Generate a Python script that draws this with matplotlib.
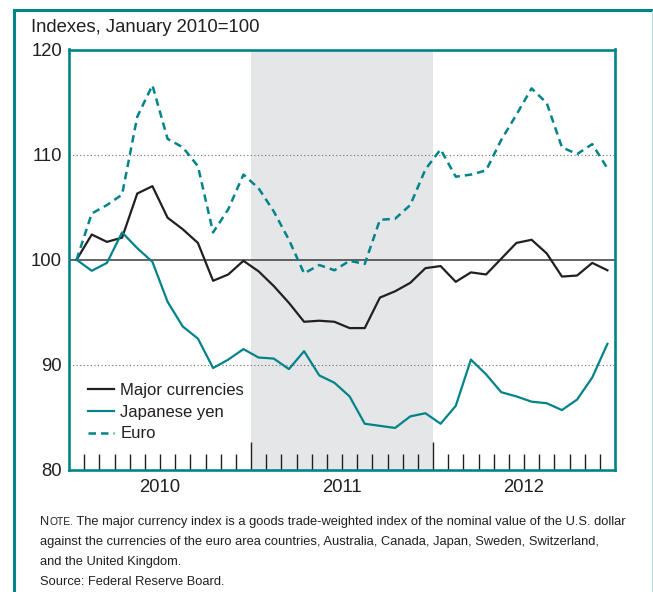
import matplotlib
matplotlib.use('Agg')
import matplotlib.pyplot as plt
import numpy as np
from matplotlib.lines import Line2D
from matplotlib.transforms import blended_transform_factory

plt.rcParams['font.family'] = ['Liberation Sans', 'DejaVu Sans']

# ---- data (monthly, Jan 2010 .. Dec 2012) ----
years = ['2010', '2011', '2012']
major = [100.0, 102.4, 101.7, 102.1, 106.3, 107.0, 104.0, 102.9, 101.6, 98.0, 98.6, 99.9,
         98.9, 97.5, 95.9, 94.1, 94.2, 94.1, 93.5, 93.5, 96.4, 97.0, 97.8, 99.2,
         99.4, 97.9, 98.8, 98.6, 100.1, 101.6, 101.9, 100.6, 98.4, 98.5, 99.7, 99.0]
yen = [100.0, 98.95, 99.7, 102.6, 101.1, 99.8, 96.0, 93.65, 92.5, 89.7, 90.5, 91.5,
       90.7, 90.6, 89.6, 91.3, 89.0, 88.3, 87.0, 84.4, 84.2, 84.0, 85.1, 85.4,
       84.4, 86.1, 90.5, 89.1, 87.4, 87.0, 86.5, 86.35, 85.7, 86.7, 88.8, 92.0]
euro = [100.0, 104.4, 105.2, 106.2, 113.6, 116.6, 111.5, 110.7, 108.9, 102.6, 104.8, 108.1,
        106.8, 104.6, 101.9, 98.7, 99.5, 99.0, 99.9, 99.6, 103.8, 103.9, 105.2, 108.6,
        110.5, 107.9, 108.1, 108.5, 111.4, 113.8, 116.3, 114.9, 110.7, 110.05, 111.0, 108.7]
y_ticks = [80, 90, 100, 110, 120]
labels = ['Major currencies', 'Japanese yen', 'Euro']
shade_years = ('2011',)

TEAL = '#00848a'
DARK = '#231f20'
W, H = 653, 592

fig = plt.figure(figsize=(W / 100, H / 100), dpi=100)
ax = fig.add_axes([69 / W, 1 - 470 / H, (615 - 69) / W, (470 - 49.5) / H])

n = len(major)
x = np.arange(n) + 0.5

# shading for 2011
for yr in shade_years:
    i = years.index(yr)
    ax.axvspan(12 * i, 12 * (i + 1), color='#e5e6e8', lw=0, zorder=0)

# reference lines
for v in (90, 110):
    ax.axhline(v, color='#6d6e71', lw=0.8, ls=(0, (1, 2.2)), zorder=1)
ax.axhline(100, color='#3a3a3a', lw=1.1, zorder=1)

ax.plot(x, major, color=DARK, lw=1.6, zorder=3, label=labels[0])
ax.plot(x, yen, color=TEAL, lw=1.6, zorder=3, label=labels[1])
ax.plot(x, euro, color=TEAL, lw=1.8, ls=(0, (3.0, 2.0)), zorder=3, label=labels[2])

ax.set_xlim(0, n)
ax.set_ylim(80, 120)

# ticks
ax.set_xticks([12, 24])
ax.set_xticks([m for m in range(1, n) if m % 12 != 0], minor=True)
ax.tick_params(axis='x', which='major', direction='in', length=20, width=1.0,
               color=DARK, labelbottom=False)
ax.tick_params(axis='x', which='minor', direction='in', length=11.5, width=1.0,
               color=DARK, labelbottom=False)
ax.set_yticks(y_ticks)
ax.tick_params(axis='y', length=0, pad=5, labelsize=13.3, labelcolor=DARK)

for s in ax.spines.values():
    s.set_color(TEAL)
    s.set_linewidth(1.9)
    s.set_zorder(5)

trans = blended_transform_factory(ax.transData, fig.transFigure)
for i, yr in enumerate(years):
    ax.text(12 * i + 6, 1 - 488 / H, yr, transform=trans, ha='center', va='center',
            fontsize=13.3, color=DARK)

fig.text(31 / W, 1 - 28 / H, 'Indexes, January 2010=100', ha='left', va='center',
         fontsize=13.3, color=DARK)

leg = ax.legend(loc='center left', bbox_to_anchor=(88 / W, 1 - 412 / H),
                bbox_transform=fig.transFigure, frameon=False, fontsize=12,
                handlelength=1.55, handletextpad=0.4, labelspacing=0.42,
                borderpad=0, borderaxespad=0)
for t in leg.get_texts():
    t.set_color(DARK)

# outer frame
fig.add_artist(Line2D([14 / W, 14 / W], [0, 1 - 9.5 / H], transform=fig.transFigure,
                      color=TEAL, lw=2.2, solid_capstyle='projecting'))
fig.add_artist(Line2D([14 / W, 1], [1 - 9.5 / H, 1 - 9.5 / H], transform=fig.transFigure,
                      color=TEAL, lw=2.2, solid_capstyle='projecting'))
fig.add_artist(Line2D([651.5 / W, 651.5 / W], [0, 1 - 11 / H], transform=fig.transFigure,
                      color='#b4dadb', lw=0.8))

# note text with small caps "NOTE."
fig.canvas.draw()
r = fig.canvas.get_renderer()
fw = fig.bbox.width
fs = 9.25
y1 = 1 - 525 / H
t1 = fig.text(40 / W, y1, 'N', fontsize=fs, va='baseline', color=DARK)
bb = t1.get_window_extent(r)
t2 = fig.text(bb.x1 / fw, y1, 'OTE.', fontsize=fs * 0.8, va='baseline', color=DARK)
bb2 = t2.get_window_extent(r)
fig.text(bb2.x1 / fw, y1, ' The major currency index is a goods trade-weighted index of the nominal value of the U.S. dollar',
         fontsize=fs, va='baseline', color=DARK)
fig.text(40 / W, 1 - 545 / H, 'against the currencies of the euro area countries, Australia, Canada, Japan, Sweden, Switzerland,',
         fontsize=fs, va='baseline', color=DARK)
fig.text(40 / W, 1 - 565 / H, 'and the United Kingdom.', fontsize=fs, va='baseline', color=DARK)
fig.text(40 / W, 1 - 585 / H, 'Source: Federal Reserve Board.', fontsize=fs, va='baseline', color=DARK)

fig.savefig('out.png', dpi=100)
